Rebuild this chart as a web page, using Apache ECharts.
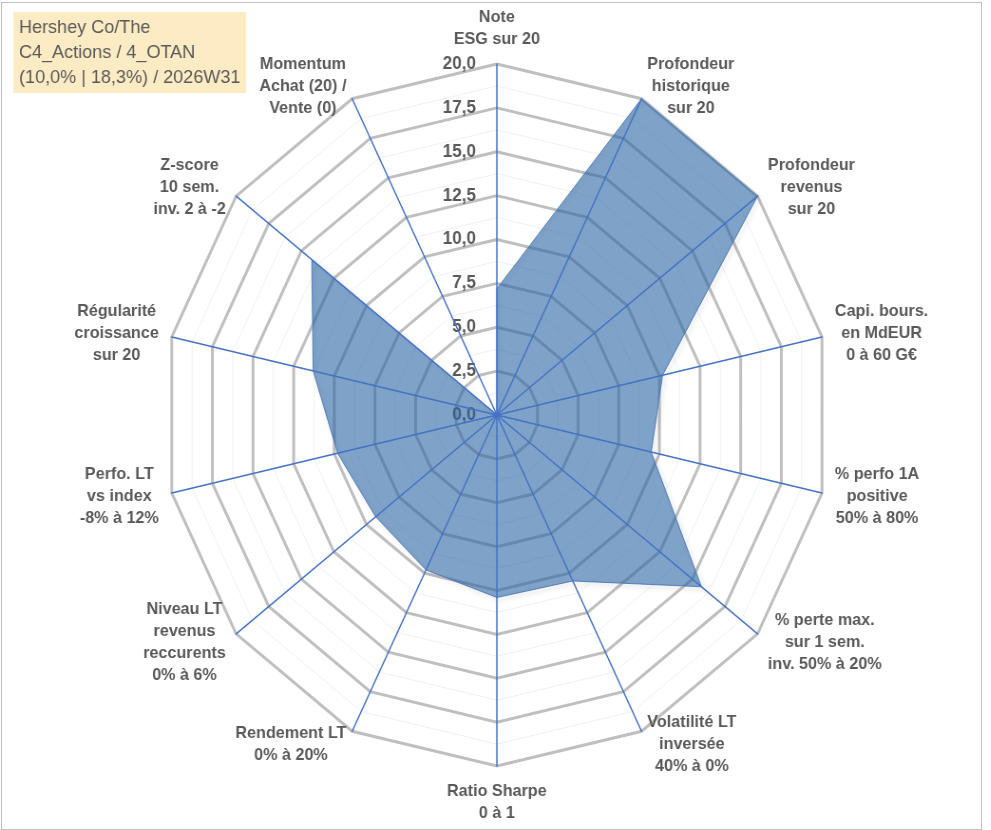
<!DOCTYPE html>
<html>
<head>
<meta charset="utf-8">
<script src="https://cdn.jsdelivr.net/npm/echarts@6/dist/echarts.min.js"></script>
<style>
    html, body { margin: 0; padding: 0; background: #fff; overflow: hidden; }
    /* the original radar is slightly narrower than tall, so squeeze it horizontally */
    #chart_radar { width: 1043px; height: 830px; transform: scaleX(0.95); transform-origin: 0 0; }
    #frame { position: absolute; left: 1px; top: 2px; width: 979px; height: 826px; border: 1px solid #BFBFBF; pointer-events: none; }
</style>
</head>
<body>
<div id="chart_radar"></div>
<div id="frame"></div>
<script>
// axes in the order they appear clockwise from the top
var axisNames = [
    'Note\nESG sur 20',
    'Profondeur\nhistorique\nsur 20',
    'Profondeur\nrevenus\nsur 20',
    'Capi. bours.\nen MdEUR\n0 à 60 G€',
    '% perfo 1A\npositive\n50% à 80%',
    '% perte max.\nsur 1 sem.\ninv. 50% à 20%',
    'Volatilité LT\ninversée\n40% à 0%',
    'Ratio Sharpe\n0 à 1',
    'Rendement LT\n0% à 20%',
    'Niveau LT\nrevenus\nreccurents\n0% à 6%',
    'Perfo. LT\nvs index\n-8% à 12%',
    'Régularité\ncroissance\nsur 20',
    'Z-score\n10 sem.\ninv. 2 à -2',
    'Momentum\nAchat (20) /\nVente (0)'
];
var scores = [7.2, 20, 20, 10.2, 9.5, 15.7, 10.5, 10.4, 9.8, 9.3, 9.8, 11.3, 14.2, 0];
var scoreMax = 20;
var titleLines = ['Hershey Co/The', 'C4_Actions / 4_OTAN', '(10,0% | 18,3%) / 2026W31'];

var chart;

// echarts lays indicators out counter-clockwise, so keep the first and reverse the rest
function toEchartsOrder(arr) {
    return [arr[0]].concat(arr.slice(1).reverse());
}

function setChart() {
    var dom = document.getElementById('chart_radar');
    chart = echarts.init(dom);

    var names = toEchartsOrder(axisNames);
    var values = toEchartsOrder(scores);

    var indicators = names.map(function (n, i) {
        var ind = {name: n, max: scoreMax, min: 0};
        if (i === 0) {
            ind.axisLabel = {show: true};
        }
        return ind;
    });
    var plainIndicators = names.map(function (n) {
        return {name: n, max: scoreMax, min: 0};
    });

    var center = [523, 415];
    var radius = 351;

    var option = {
        animation: false,
        title: {
            text: titleLines.join('\n'),
            left: 14,
            top: 12,
            padding: [3, 6, 3, 6],
            backgroundColor: '#FDEBC4',
            textStyle: {
                fontFamily: 'Liberation Sans',
                fontSize: 19,
                fontWeight: 'normal',
                color: '#595959',
                lineHeight: 25
            }
        },
        radar: [
            {
                // faint minor rings
                center: center,
                radius: radius,
                startAngle: 90,
                shape: 'polygon',
                splitNumber: 16,
                indicator: plainIndicators,
                axisName: {show: false},
                axisLine: {show: false},
                splitArea: {show: false},
                splitLine: {lineStyle: {color: '#F0F0F0', width: 1}}
            },
            {
                // major rings, names and value labels
                center: center,
                radius: radius,
                startAngle: 90,
                shape: 'polygon',
                splitNumber: 8,
                indicator: indicators,
                nameGap: 14,
                axisName: {
                    formatter: function (name) {
                        return '{n|' + name + '}';
                    },
                    rich: {
                        n: {
                            align: 'center',
                            fontFamily: 'Liberation Sans',
                            fontSize: 17,
                            fontWeight: 'bold',
                            lineHeight: 22,
                            color: '#595959'
                        }
                    }
                },
                axisLine: {show: false},
                axisTick: {show: false},
                axisLabel: {
                    show: false,
                    margin: 22,
                    fontFamily: 'Liberation Sans',
                    fontSize: 18,
                    fontWeight: 'bold',
                    color: '#595959',
                    formatter: function (v) {
                        return v.toFixed(1).replace('.', ',');
                    }
                },
                splitArea: {show: false},
                splitLine: {lineStyle: {color: '#BFBFBF', width: 3}}
            },
            {
                // blue spokes drawn over the filled area
                center: center,
                radius: radius,
                startAngle: 90,
                shape: 'polygon',
                z: 5,
                indicator: plainIndicators,
                axisName: {show: false},
                axisLine: {lineStyle: {color: '#4472C4', width: 1.5}},
                splitArea: {show: false},
                splitLine: {show: false}
            }
        ],
        series: [{
            type: 'radar',
            radarIndex: 1,
            z: 3,
            symbol: 'none',
            lineStyle: {
                color: '#6A8FC4',
                width: 1,
                shadowColor: 'rgba(0, 0, 0, 0.3)',
                shadowBlur: 5,
                shadowOffsetX: 2,
                shadowOffsetY: 2
            },
            areaStyle: {
                color: 'rgba(42, 100, 164, 0.6)',
                opacity: 1
            },
            data: [{value: values, name: 'Score'}]
        }]
    };
    chart.setOption(option, true);
}

window.onresize = function () {
    chart && chart.resize();
};
setChart();
</script>
</body>
</html>
